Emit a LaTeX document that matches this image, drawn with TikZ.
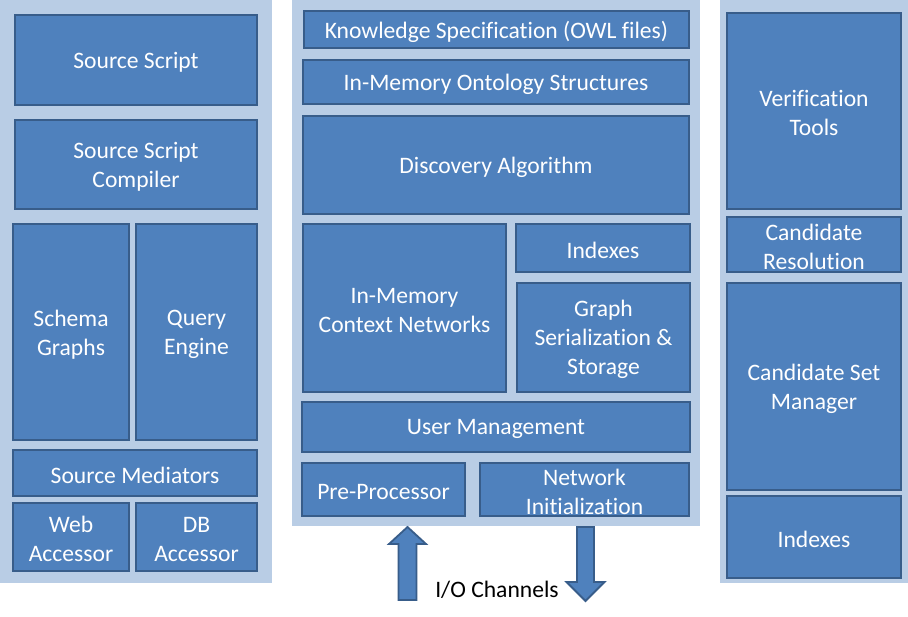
\documentclass[tikz,border=0pt]{standalone}
\usepackage{fontspec}
\setmainfont{Carlito}[Ligatures={NoCommon}]
\definecolor{boxfill}{HTML}{4F81BD}
\definecolor{boxline}{HTML}{385D8A}
\definecolor{panel}{HTML}{B9CDE5}
\begin{document}
\begin{tikzpicture}[x=1pt,y=-1pt,
  box/.style={draw=boxline,fill=boxfill,line width=2.4pt,inner sep=0pt},
  boxtext/.style={text=white,align=center,inner sep=0pt,
    font=\fontsize{23.6}{29}\selectfont},
  panelbox/.style={fill=panel,draw=none},
  blockarrow/.style={draw=boxline,fill=boxfill,line width=1.8pt,line join=miter}]
\useasboundingbox (0,0) rectangle (908,617);
\fill[white] (0,0) rectangle (908,617);
% panels
\path[panelbox] (0,0) rectangle (272,583);
\path[panelbox] (292,0) rectangle (700,526);
\path[panelbox] (720,0) rectangle (908,583);
% helper: box from corners
\newcommand{\mybox}[6]{%
  \node[box,minimum width={#3-#1},minimum height={#4-#2}] (#5) at ({(#1+#3)/2},{(#2+#4)/2}) {};
  \node[boxtext] (#5t) at ([yshift=-2.3pt]#5.center) {#6};}
% left
\mybox{15}{15}{257}{105}{ss}{Source Script}
\mybox{15}{120}{257}{209}{ssc}{Source Script\\Compiler}
\mybox{13}{224}{129}{440}{sg}{Schema\\Graphs}
\mybox{136}{224}{257}{440}{qe}{Query\\Engine}
\mybox{13}{450}{257}{496}{sm}{Source Mediators}
\mybox{13}{503}{129}{571}{wa}{Web\\Accessor}
\mybox{136}{503}{257}{571}{dba}{DB\\Accessor}
% middle
\mybox{304}{11}{689}{48}{ks}{Knowledge Specification (OWL files)}
\mybox{303}{60}{689}{104}{imo}{In-Memory Ontology Structures}
\mybox{303}{116}{689}{214}{da}{Discovery Algorithm}
\mybox{303}{224}{506}{392}{imc}{In-Memory\\Context Networks}
\mybox{516}{224}{690}{272}{idx}{Indexes}
\mybox{517}{283}{690}{392}{gss}{Graph\\Serialization \&\\Storage}
\mybox{302}{402}{690}{452}{um}{User Management}
\mybox{302}{463}{465}{516}{pp}{Pre-Processor}
\mybox{480}{463}{689}{516}{ni}{Network\\Initialization}
% right
\mybox{727}{13}{901}{209}{vt}{Verification\\Tools}
\mybox{727}{217}{901}{272}{cr}{Candidate\\Resolution}
\mybox{727}{283}{901}{490}{csm}{Candidate Set\\Manager}
\mybox{727}{496}{901}{578}{idx2}{Indexes}
% I/O arrows
\draw[blockarrow] (407.5,527) -- (426,544) -- (416.5,544) -- (416.5,600) -- (398.5,600) -- (398.5,544) -- (389,544) -- cycle;
\draw[blockarrow] (577,527) -- (594,527) -- (594,582) -- (604.5,582) -- (585.5,601) -- (566.5,582) -- (577,582) -- cycle;
\node[font=\fontsize{23.6}{29}\selectfont,inner sep=0pt] (io) at (497,590) {I/O Channels};
\end{tikzpicture}
\end{document}
